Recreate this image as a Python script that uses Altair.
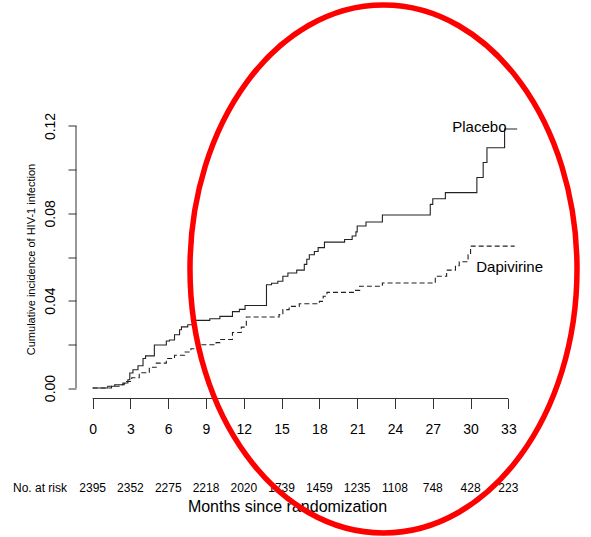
import altair as alt
import pandas as pd

# ---- data ----
months_ticks = [0, 3, 6, 9, 12, 15, 18, 21, 24, 27, 30, 33]
at_risk = ["2395", "2352", "2275", "2218", "2020", "1739", "1459", "1235", "1108", "748", "428", "223"]
y_ticks = [0.0, 0.02, 0.04, 0.06, 0.08, 0.10, 0.12]

placebo_month = [0, 1.2, 1.75, 2.4, 2.8, 2.95, 3.2, 3.6, 4.0, 4.2, 4.9, 5.85, 6.1, 6.5, 6.9, 7.05, 7.55,
                 7.95, 9.3, 10.1, 11.1, 11.65, 12.1, 13.8, 14.2, 14.7, 15.1, 15.5, 16.2, 16.8, 17.0,
                 17.2, 17.6, 17.9, 18.4, 20.0, 20.6, 20.9, 21.0, 21.7, 23.0, 26.8, 27.0, 28.0, 30.5,
                 31.0, 31.3, 32.7, 33.7]
placebo_inc = [0, 0.0008, 0.0015, 0.0023, 0.0038, 0.0069, 0.0084, 0.0102, 0.0135, 0.0147, 0.0197, 0.0215,
               0.022, 0.0244, 0.0267, 0.028, 0.029, 0.031, 0.0317, 0.0328, 0.035, 0.036, 0.0378,
               0.0473, 0.048, 0.0489, 0.0512, 0.0527, 0.054, 0.0566, 0.059, 0.061, 0.0625, 0.0643,
               0.0668, 0.068, 0.0696, 0.0715, 0.0742, 0.076, 0.0792, 0.0841, 0.0867, 0.0895, 0.0964,
               0.1033, 0.110, 0.1186, 0.1186]

dapi_month = [0, 1.5, 2.1, 2.5, 2.7, 3.1, 3.7, 4.5, 5.05, 5.85, 6.5, 7.3, 7.8, 8.5, 9.8, 10.1, 11.1,
              11.8, 12.2, 14.8, 15.1, 15.6, 16.4, 18.0, 18.3, 18.6, 20.8, 21.2, 23.0, 27.2, 28.1,
              28.8, 29.1, 29.8, 30.0, 33.5]
dapi_inc = [0, 0.0008, 0.0015, 0.002, 0.003, 0.0047, 0.007, 0.0095, 0.0114, 0.0135, 0.015, 0.0165,
            0.018, 0.0198, 0.0208, 0.0222, 0.0254, 0.0279, 0.0325, 0.0336, 0.0359, 0.0374, 0.0386,
            0.0397, 0.042, 0.0438, 0.0447, 0.0466, 0.0481, 0.0512, 0.054, 0.056, 0.0578, 0.061,
            0.065, 0.065]

label_names = ["Placebo", "Dapivirine"]
label_month = [30.7, 33.1]
label_inc = [0.1195, 0.0553]

FONT = "Liberation Sans"

curves = pd.DataFrame({
    "month": placebo_month + dapi_month,
    "inc": placebo_inc + dapi_inc,
    "arm": ["Placebo"] * len(placebo_month) + ["Dapivirine"] * len(dapi_month),
})
risk_df = pd.DataFrame({"month": months_ticks, "n": at_risk})
labels_df = pd.DataFrame({"month": label_month, "inc": label_inc, "name": label_names})
one = pd.DataFrame({"t": ["No. at risk"]})

xs = alt.Scale(domain=[-1.32, 34.32], nice=False, zero=False)
ys = alt.Scale(domain=[-0.0048, 0.1248], nice=False, zero=False)

x_axis = alt.Axis(
    values=months_ticks, domain=False, grid=False,
    tickSize=10, tickColor="#333", tickWidth=1,
    labelFont=FONT, labelFontSize=14, labelColor="black",
    labelBaseline="alphabetic", labelPadding=24.5, labelFlush=False, labelOverlap=False,
    title="Months since randomization", titleFont=FONT, titleFontSize=16,
    titleFontWeight="normal", titleColor="black",
    titleX=211, titleY=112.7, titleAlign="center", titleBaseline="alphabetic",
)
y_axis = alt.Axis(
    values=y_ticks, domain=False, grid=False, format=".2f",
    labelExpr="round(datum.value*100) % 4 == 0 ? datum.label : ''",
    tickSize=8, tickColor="#333", tickWidth=1,
    labelFont=FONT, labelFontSize=14, labelColor="black",
    labelAngle=270, labelAlign="center", labelBaseline="alphabetic", labelPadding=14,
    labelOverlap=False, labelFlush=False,
    title="Cumulative incidence of HIV-1 infection", titleFont=FONT, titleFontSize=11,
    titleFontWeight="normal", titleColor="black", titleAngle=270,
    titleX=-42, titleY=143.5, titleAlign="center", titleBaseline="alphabetic",
)

lines = alt.Chart(curves).mark_line(interpolate="step-after", color="#222", strokeWidth=1.1).encode(
    x=alt.X("month:Q", scale=xs, axis=x_axis),
    y=alt.Y("inc:Q", scale=ys, axis=y_axis),
    detail="arm:N",
    strokeDash=alt.StrokeDash("arm:N", scale=alt.Scale(domain=["Placebo", "Dapivirine"],
                                                        range=[[1, 0], [5, 3]]), legend=None),
)

x_line = alt.Chart(one).mark_rule(color="#333", strokeWidth=1).encode(
    x=alt.datum(months_ticks[0]), x2=alt.datum(months_ticks[-1]), y=alt.value(283)
)
y_line = alt.Chart(one).mark_rule(color="#333", strokeWidth=1).encode(
    x=alt.value(0), y=alt.datum(y_ticks[0]), y2=alt.datum(y_ticks[-1])
)

labels = alt.Chart(labels_df).mark_text(font=FONT, fontSize=15, color="black",
                                         align="center", baseline="middle").encode(
    x=alt.X("month:Q", scale=xs), y=alt.Y("inc:Q", scale=ys), text="name:N"
)

risk = alt.Chart(risk_df).mark_text(font=FONT, fontSize=12, color="black",
                                     align="center", baseline="middle").encode(
    x=alt.X("month:Q", scale=xs), y=alt.value(372.5), text="n:N"
)
risk_lab = alt.Chart(one).mark_text(font=FONT, fontSize=12, color="black",
                                     align="left", baseline="middle").encode(
    x=alt.value(-63), y=alt.value(372.5), text="t:N"
)

# red hand-drawn style ellipse annotation
ellipse = alt.Chart(one).mark_point(
    shape="M -0.733 0 A 0.733 1 0 1 1 0.733 0 A 0.733 1 0 1 1 -0.733 0 Z",
    size=278784, filled=False, stroke="#ff0000", strokeWidth=5.5, opacity=1,
).encode(x=alt.value(307.5), y=alt.value(153.5))

chart = alt.layer(lines, x_line, y_line, labels, risk, risk_lab, ellipse).properties(
    width=449, height=283,
    autosize=alt.AutoSizeParams(type="none"),
    padding={"left": 76, "top": 115.5, "right": 66, "bottom": 138.5},
    background="white",
).configure_view(stroke=None)

chart.save("out.html", embed_options={"renderer": "svg", "actions": False})
